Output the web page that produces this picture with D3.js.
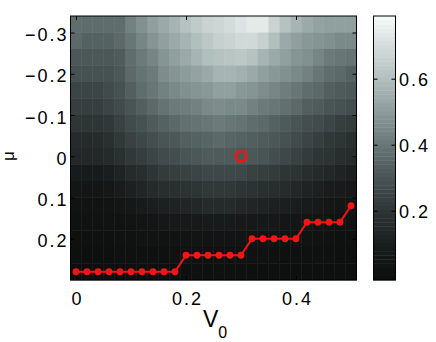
<!DOCTYPE html>
<html>
<meta charset="utf-8">
<script src="https://cdn.jsdelivr.net/npm/d3@7"></script>
<style>
    body { margin: 0; background: #fff; }
    text { font-family: "Liberation Sans", Arial, Helvetica, sans-serif; }
    .tick text { font-size: 18px; letter-spacing: 2px; fill: #000; }
    .tick line { stroke: #000; }
</style>
<body>
<svg width="436" height="342"></svg>
<script>
// grid axes
const v0Values = [0, 0.02, 0.04, 0.06, 0.08, 0.10, 0.12, 0.14, 0.16, 0.18, 0.20, 0.22, 0.24,
                  0.26, 0.28, 0.30, 0.32, 0.34, 0.36, 0.38, 0.40, 0.42, 0.44, 0.46, 0.48, 0.50];
const muValues = [-0.32, -0.28, -0.24, -0.20, -0.16, -0.12, -0.08, -0.04,
                  0, 0.04, 0.08, 0.12, 0.16, 0.20, 0.24, 0.28];

// field values, one row per mu (top to bottom), one column per V0
const field = [
    [0.37,0.37,0.37,0.37,0.37,0.43,0.47,0.51,0.54,0.57,0.61,0.64,0.67,0.68,0.70,0.72,0.74,0.74,0.67,0.61,0.57,0.54,0.52,0.51,0.51,0.51],
    [0.36,0.34,0.34,0.34,0.36,0.40,0.44,0.48,0.51,0.54,0.57,0.60,0.63,0.66,0.67,0.69,0.69,0.66,0.60,0.54,0.51,0.49,0.48,0.47,0.45,0.45],
    [0.31,0.31,0.31,0.31,0.32,0.37,0.41,0.44,0.48,0.51,0.54,0.57,0.60,0.61,0.62,0.63,0.61,0.57,0.54,0.51,0.48,0.47,0.44,0.41,0.40,0.39],
    [0.29,0.29,0.29,0.29,0.31,0.36,0.39,0.41,0.46,0.48,0.50,0.52,0.54,0.57,0.57,0.56,0.54,0.51,0.49,0.47,0.45,0.43,0.40,0.37,0.36,0.34],
    [0.25,0.25,0.25,0.27,0.29,0.33,0.37,0.40,0.43,0.45,0.47,0.48,0.49,0.51,0.51,0.49,0.48,0.46,0.44,0.42,0.40,0.37,0.36,0.33,0.32,0.31],
    [0.23,0.23,0.23,0.25,0.27,0.30,0.33,0.36,0.39,0.41,0.42,0.43,0.45,0.46,0.45,0.45,0.43,0.41,0.40,0.38,0.36,0.33,0.32,0.30,0.29,0.28],
    [0.20,0.20,0.20,0.21,0.24,0.27,0.29,0.32,0.34,0.36,0.38,0.39,0.40,0.41,0.40,0.39,0.37,0.36,0.34,0.32,0.30,0.28,0.27,0.25,0.23,0.22],
    [0.15,0.15,0.16,0.18,0.21,0.24,0.26,0.28,0.30,0.31,0.33,0.34,0.35,0.36,0.35,0.34,0.33,0.32,0.31,0.29,0.27,0.25,0.23,0.21,0.20,0.18],
    [0.14,0.14,0.14,0.15,0.18,0.21,0.23,0.25,0.27,0.28,0.30,0.31,0.32,0.32,0.32,0.31,0.31,0.30,0.28,0.26,0.24,0.22,0.20,0.19,0.17,0.16],
    [0.08,0.08,0.08,0.10,0.12,0.15,0.17,0.20,0.22,0.23,0.24,0.25,0.26,0.26,0.26,0.26,0.24,0.23,0.22,0.20,0.19,0.17,0.15,0.14,0.12,0.11],
    [0.05,0.05,0.05,0.06,0.09,0.11,0.13,0.15,0.17,0.18,0.19,0.20,0.21,0.21,0.21,0.20,0.19,0.18,0.17,0.16,0.14,0.12,0.11,0.09,0.08,0.07],
    [0.03,0.03,0.03,0.035,0.05,0.06,0.08,0.10,0.11,0.12,0.13,0.14,0.15,0.15,0.15,0.14,0.13,0.12,0.11,0.105,0.095,0.08,0.07,0.055,0.05,0.045],
    [0.02,0.02,0.02,0.025,0.03,0.035,0.04,0.05,0.06,0.065,0.07,0.075,0.08,0.08,0.08,0.075,0.07,0.065,0.06,0.055,0.05,0.045,0.04,0.035,0.03,0.03],
    [0.01,0.01,0.01,0.015,0.02,0.02,0.025,0.03,0.03,0.035,0.035,0.04,0.04,0.04,0.04,0.04,0.035,0.035,0.03,0.03,0.025,0.025,0.02,0.02,0.015,0.015],
    [0.005,0.005,0.005,0.008,0.01,0.01,0.012,0.015,0.015,0.018,0.018,0.02,0.02,0.02,0.02,0.02,0.018,0.018,0.015,0.015,0.012,0.012,0.01,0.01,0.008,0.008],
    [0,0,0,0.002,0.003,0.004,0.005,0.006,0.007,0.008,0.008,0.009,0.01,0.01,0.01,0.009,0.008,0.008,0.007,0.006,0.005,0.005,0.004,0.003,0.003,0.002]
];

// red boundary line (mu reached at each V0)
const boundaryMu = [0.28,0.28,0.28,0.28,0.28,0.28,0.28,0.28,0.28,0.28,
                    0.24,0.24,0.24,0.24,0.24,0.24,
                    0.20,0.20,0.20,0.20,0.20,
                    0.16,0.16,0.16,0.16,
                    0.12];
const markerPoint = { v0: 0.30, mu: 0 };

const xTicks = [0, 0.2, 0.4];
const yTicks = [-0.3, -0.2, -0.1, 0, 0.1, 0.2];
const cTicks = [0.2, 0.4, 0.6];

// colormap stops (gray with a slight teal tint)
const cStops  = [-0.01, 0.10, 0.20, 0.30, 0.40, 0.50, 0.60, 0.70, 0.79];
const cColors = ["#0c0d0d", "#1b1e1e", "#2e3535", "#495454", "#687776",
                 "#8c9c9b", "#b1bfbd", "#d4dcdb", "#fafbfb"];

let svg = d3.select("svg");
svg.append("rect").attr("width", 436).attr("height", 342).attr("fill", "#fff");

const plot = { left: 70.5, right: 356.5, top: 16, bottom: 280 };
const cb = { left: 373.5, right: 395.5, top: 16, bottom: 280 };
const dV = 0.02, dMu = 0.04;

let x = d3.scaleLinear().domain([-0.01, 0.51]).range([plot.left, plot.right]),
    y = d3.scaleLinear().domain([-0.34, 0.30]).range([plot.top, plot.bottom]),
    c = d3.scaleLinear().domain([-0.01, 0.79]).range([cb.bottom, cb.top]);

const color = d3.scaleLinear().domain(cStops).range(cColors).clamp(true);

// heatmap cells
const cells = field.flatMap((row, i) => row.map((v, j) => ({ mu: muValues[i], v0: v0Values[j], v: v })));
svg.append("g").attr("class", "cells")
    .selectAll("rect")
    .data(cells)
    .enter().append("rect")
    .attr("x", d => x(d.v0 - dV / 2))
    .attr("y", d => y(d.mu - dMu / 2))
    .attr("width", d => x(d.v0 + dV / 2) - x(d.v0 - dV / 2) + 0.4)
    .attr("height", d => y(d.mu + dMu / 2) - y(d.mu - dMu / 2) + 0.4)
    .attr("fill", d => color(d.v));

// axes with inward ticks on all sides
function styleAxis(g) {
    g.select(".domain").remove();
}
svg.append("g").attr("transform", `translate(1,${plot.bottom})`)
    .call(d3.axisBottom(x).tickValues(xTicks).tickFormat(d3.format("")).tickSizeInner(-4).tickSizeOuter(0).tickPadding(12.5))
    .call(styleAxis)
    .selectAll(".tick line").attr("transform", "translate(-1,0)");
svg.append("g").attr("transform", `translate(0,${plot.top})`)
    .call(d3.axisTop(x).tickValues(xTicks).tickFormat("").tickSizeInner(-4).tickSizeOuter(0))
    .call(styleAxis);
svg.append("g").attr("transform", `translate(${plot.left},0)`)
    .call(d3.axisLeft(y).tickValues(yTicks).tickFormat(d3.format("")).tickSizeInner(-4).tickSizeOuter(0).tickPadding(2))
    .call(styleAxis)
    .selectAll(".tick text").attr("dy", "0.45em");
svg.append("g").attr("transform", `translate(${plot.right},0)`)
    .call(d3.axisRight(y).tickValues(yTicks).tickFormat("").tickSizeInner(-4).tickSizeOuter(0))
    .call(styleAxis);

svg.append("rect")
    .attr("x", plot.left).attr("y", plot.top)
    .attr("width", plot.right - plot.left).attr("height", plot.bottom - plot.top)
    .attr("fill", "none").attr("stroke", "#000").attr("stroke-width", 1);

// red boundary line + dots
const boundary = v0Values.map((v, i) => ({ v0: v, mu: boundaryMu[i] }));
svg.append("path")
    .datum(boundary)
    .attr("d", d3.line().x(d => x(d.v0)).y(d => y(d.mu)))
    .attr("fill", "none").attr("stroke", "#f21515").attr("stroke-width", 2);
svg.append("g").selectAll("circle")
    .data(boundary)
    .enter().append("circle")
    .attr("cx", d => x(d.v0)).attr("cy", d => y(d.mu))
    .attr("r", 3.4).attr("fill", "#f21515");

svg.append("circle")
    .attr("cx", x(markerPoint.v0)).attr("cy", y(markerPoint.mu))
    .attr("r", 5.3).attr("fill", "none").attr("stroke", "#f21515").attr("stroke-width", 2.6);

// axis labels
let xl = svg.append("text").attr("x", 203).attr("y", 327).attr("fill", "#000");
xl.append("tspan").attr("font-size", "23px").text("V");
xl.append("tspan").attr("font-size", "16px").attr("dy", 11).attr("dx", 0).text("0");

svg.append("text")
    .attr("transform", "translate(14,156) rotate(-90)")
    .attr("text-anchor", "middle")
    .attr("font-size", "17px").attr("fill", "#000")
    .text("μ");

// colorbar
const levels = 64;
const step = (0.79 + 0.01) / levels;
const cbLevels = d3.range(levels).map(k => -0.01 + k * step);
svg.append("g").selectAll("rect")
    .data(cbLevels)
    .enter().append("rect")
    .attr("x", cb.left).attr("width", cb.right - cb.left)
    .attr("y", d => c(d + step))
    .attr("height", d => c(d) - c(d + step) + 0.4)
    .attr("fill", d => color(d + step / 2));

svg.append("g").attr("transform", `translate(${cb.right},0)`)
    .call(d3.axisRight(c).tickValues(cTicks).tickFormat(d3.format("")).tickSizeInner(-4).tickSizeOuter(0).tickPadding(3.5))
    .call(styleAxis)
    .selectAll(".tick text").attr("dy", "0.36em");
svg.append("g").attr("transform", `translate(${cb.left},0)`)
    .call(d3.axisLeft(c).tickValues(cTicks).tickFormat("").tickSizeInner(-4).tickSizeOuter(0))
    .call(styleAxis);
svg.append("rect")
    .attr("x", cb.left).attr("y", cb.top)
    .attr("width", cb.right - cb.left).attr("height", cb.bottom - cb.top)
    .attr("fill", "none").attr("stroke", "#000").attr("stroke-width", 1);
</script>
</body>
</html>
